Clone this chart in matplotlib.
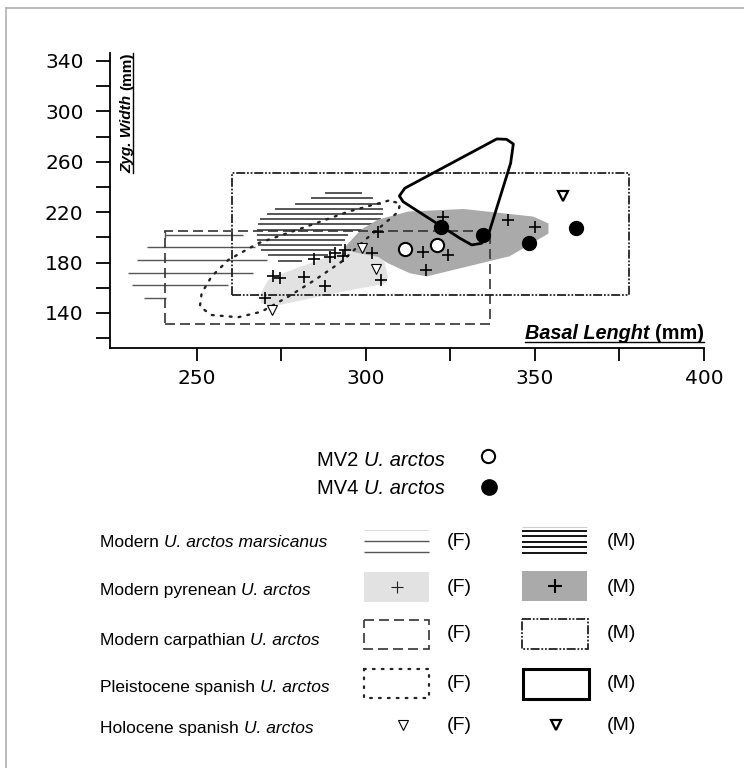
#!/usr/bin/env python3
# Basal length vs zygomatic width of U. arctos skulls, redrawn with matplotlib
import matplotlib
matplotlib.use("Agg")
from matplotlib import pyplot as plt
from matplotlib.patches import Polygon, Rectangle
from matplotlib.lines import Line2D

plt.rcParams["font.family"] = ["Liberation Sans", "DejaVu Sans"]

# ---- values (mm) ----
# Modern U. arctos marsicanus, drawn as hatch lines (y, x start, x end)
marsF_y = [202, 192, 182, 172, 162, 152]
marsF_x0 = [240.5, 235.3, 232.3, 229.7, 230.7, 234.3]
marsF_x1 = [263.7, 267.2, 270.6, 266.7, 259.3, 241.0]
marsM_y = [235, 231, 226.5, 222.3, 218.3, 214.4, 210.4, 205.9, 201.9, 197.9, 194, 190, 185.8, 181.3]
marsM_x0 = [287.9, 283.9, 279.0, 273.1, 270.6, 268.6, 268.1, 267.7, 267.7, 267.7, 268.1, 269.1, 271.1, 274.1]
marsM_x1 = [298.7, 302.2, 304.6, 305.1, 305.1, 304.6, 302.7, 298.7, 294.8, 293.8, 292.8, 290.8, 288.8, 281.0]

# Modern pyrenean U. arctos, convex areas
pyrF_x = [269, 269, 271, 274, 285, 295, 300, 303, 305.5, 306.5, 305.5, 295, 281, 272]
pyrF_y = [148, 156, 166, 170, 181, 190, 193, 185, 181, 168, 163, 158, 150, 145]
pyrM_x = [293.5, 298.5, 303.5, 312.5, 329, 349.5, 354, 354, 342.5, 318, 313, 306.5, 303.5, 297]
pyrM_y = [191.5, 206, 214, 220.5, 222.5, 216.5, 211, 203, 185, 169, 171.5, 179.5, 184.5, 188]
# individual pyrenean specimens
pyrCross_x = [270.1, 272.6, 274.6, 281.7, 287.9, 284.6, 289.3, 290.8, 293.8, 293.3, 301.7, 303.6, 304.6,
              322.9, 316.9, 324.4, 317.8, 342.1, 350.0]
pyrCross_y = [152.2, 169.4, 168.0, 168.8, 161.4, 182.6, 184.2, 187.9, 190.0, 185.2, 187.4, 204.5, 166.2,
              216.4, 188.7, 186.0, 174.1, 213.8, 208.5]

# Modern carpathian U. arctos, ranges [x0, x1, y0, y1]
carpF = [240.5, 336.7, 131.5, 205.0]
carpM = [260.4, 377.9, 154.3, 251.3]

# Pleistocene spanish U. arctos, outlines
pleiF_x = [306.6, 294.8, 281.0, 268.1, 259.3, 254.3, 251.4, 250.9, 254.3, 262.2, 269.1, 277.0, 284.9,
           292.8, 299.7, 305.6, 309.6, 310.1, 306.6]
pleiF_y = [229.1, 220.4, 207.2, 195.3, 182.1, 168.8, 155.6, 145.0, 138.4, 136.6, 141.0, 152.9, 166.2,
           180.7, 197.9, 211.2, 220.4, 227.1, 229.1]
pleiM_x = [309.9, 311.5, 338.7, 341.6, 343.6, 342.8, 336.2, 334.2, 331.3, 327.8, 311.0]
pleiM_y = [232.9, 239.0, 278.1, 277.8, 274.1, 258.8, 201.9, 195.3, 194.0, 199.3, 228.3]

# Holocene spanish U. arctos
holoF_x = [298.7, 302.9, 272.1]
holoF_y = [191.3, 174.7, 142.4]
holoM_x = [358.4]
holoM_y = [232.5]

# Monte Vallone (MV) specimens
mv2_x = [311.5, 321.1]
mv2_y = [190.4, 194.0]
mv4_x = [322.1, 334.7, 348.1, 362.1]
mv4_y = [208.5, 201.9, 195.2, 207.1]

xTicks = [250, 275, 300, 325, 350, 375, 400]
xLabelled = [250, 300, 350, 400]
yTicks = [120, 140, 160, 180, 200, 220, 240, 260, 280, 300, 320, 340]
yLabelled = [140, 180, 220, 260, 300, 340]

legendRows = ["Modern <i>U. arctos marsicanus</i>", "Modern pyrenean <i>U. arctos</i>",
              "Modern carpathian <i>U. arctos</i>", "Pleistocene spanish <i>U. arctos</i>",
              "Holocene spanish <i>U. arctos</i>"]

lightGray = "#e2e2e2"
darkGray = "#aaaaaa"

W, H = 744, 768
fig = plt.figure(figsize=(W / 100, H / 100), dpi=100)
fig.patch.set_facecolor("white")

# overlay axes in pixel units for the legend and the frame
lax = fig.add_axes([0, 0, 1, 1], zorder=0)
lax.set_xlim(0, W)
lax.set_ylim(H, 0)
lax.axis("off")

# main plot axes
ax = fig.add_axes([110 / W, 1 - 348 / H, 594 / W, 295 / H], zorder=1)
ax.patch.set_alpha(0)
ax.set_xlim(224.3, 400)
ax.set_ylim(112.2, 346.3)
for side in ["top", "right"]:
    ax.spines[side].set_visible(False)
for side in ["left", "bottom"]:
    ax.spines[side].set_linewidth(1.3)

# marsicanus hatch lines
ax.hlines(marsF_y, marsF_x0, marsF_x1, colors="#555555", linewidth=1.0, zorder=1)
ax.vlines([marsF_x0[0]], marsF_y[0] - 2.5, marsF_y[0] + 2.5, colors="#555555", linewidth=1.0, zorder=1)
ax.hlines(marsM_y, marsM_x0, marsM_x1, colors="#2a2a2a", linewidth=1.1, zorder=1)

# pyrenean areas
ax.add_patch(Polygon(list(zip(pyrF_x, pyrF_y)), closed=True, facecolor=lightGray, edgecolor="none", zorder=2))
ax.add_patch(Polygon(list(zip(pyrM_x, pyrM_y)), closed=True, facecolor=darkGray, edgecolor="none", zorder=3))

# carpathian ranges
ax.add_patch(Rectangle((carpF[0], carpF[2]), carpF[1] - carpF[0], carpF[3] - carpF[2], fill=False,
                       edgecolor="#333333", linewidth=1.2, linestyle=(0, (6, 3)), zorder=4))
ax.add_patch(Rectangle((carpM[0], carpM[2]), carpM[1] - carpM[0], carpM[3] - carpM[2], fill=False,
                       edgecolor="#222222", linewidth=1.3, linestyle=(0, (5, 1, 1, 1, 1, 1)), zorder=4))

# pleistocene outlines
ax.plot(pleiF_x, pleiF_y, color="#222222", linewidth=1.7, linestyle=(0, (0.8, 3.0)),
        dash_capstyle="round", zorder=5)
ax.add_patch(Polygon(list(zip(pleiM_x, pleiM_y)), closed=True, fill=False, edgecolor="black",
                     linewidth=2.0, joinstyle="round", zorder=5))

# points
ax.plot(pyrCross_x, pyrCross_y, linestyle="none", marker="+", markersize=9, markeredgewidth=1.2,
        color="black", zorder=6)
ax.plot(holoF_x, holoF_y, linestyle="none", marker="v", markersize=6.5, markerfacecolor="white",
        markeredgecolor="black", markeredgewidth=0.8, zorder=6)
ax.plot(holoM_x, holoM_y, linestyle="none", marker="v", markersize=6.5, markerfacecolor="white",
        markeredgecolor="black", markeredgewidth=1.6, zorder=6)
ax.plot(mv2_x, mv2_y, linestyle="none", marker="o", markersize=9.5, markerfacecolor="white",
        markeredgecolor="black", markeredgewidth=1.5, zorder=7)
ax.plot(mv4_x, mv4_y, linestyle="none", marker="o", markersize=10, color="black", zorder=7)

# ticks
ax.set_xticks(xTicks)
ax.set_xticklabels([str(v) if v in xLabelled else "" for v in xTicks])
ax.set_yticks(yTicks)
ax.set_yticklabels([str(v) if v in yLabelled else "" for v in yTicks])
ax.tick_params(axis="x", direction="out", length=9, width=1.3, pad=6, labelsize=14.5)
ax.tick_params(axis="y", direction="out", length=10, width=1.3, pad=9, labelsize=14.5)
for lbl in ax.get_xticklabels() + ax.get_yticklabels():
    lbl.set_fontfamily("DejaVu Sans")

# axis titles, bold (italic part) and underlined
xUnit = fig.text(704 / W, 1 - 339 / H, "(mm)", ha="right", va="baseline", fontsize=14.3, weight="bold")
xName = fig.text(0, 0, "Basal Lenght ", fontsize=14.3, weight="bold", style="italic",
                 ha="right", va="baseline")
yUnit = fig.text(127 / W, 1 - 53 / H, "(mm)", ha="center", va="top", rotation=90, fontsize=11,
                 weight="bold")
yName = fig.text(0, 0, "Zyg. Width ", ha="center", va="top", rotation=90, fontsize=11,
                 weight="bold", style="italic")
fig.canvas.draw()
rend = fig.canvas.get_renderer()
bb = xUnit.get_window_extent(rend)
xName.set_position((bb.x0 / W, (1 - 339 / H)))
bb = yUnit.get_window_extent(rend)
yName.set_position((((bb.x0 + bb.x1) / 2) / W, bb.y0 / H))
fig.canvas.draw()
bx0 = xName.get_window_extent(rend)
bx1 = xUnit.get_window_extent(rend)
fig.add_artist(Line2D([bx0.x0 / W, bx1.x1 / W], [(bx1.y0 + 1) / H] * 2, color="black", linewidth=1.0,
                      transform=fig.transFigure))
by0 = yName.get_window_extent(rend)
by1 = yUnit.get_window_extent(rend)
fig.add_artist(Line2D([(by1.x1 - 1) / W] * 2, [by0.y0 / H, by1.y1 / H], color="black", linewidth=1.0,
                      transform=fig.transFigure))

# frame lines of the original image
lax.plot([6, W], [8, 8], color="#b0b0b0", linewidth=1.2)
lax.plot([6, 6], [8, H], color="#b0b0b0", linewidth=1.2)


def rich_text(x, y, label, size):
    # draws "plain <i>italic</i>" pieces one after another on a shared baseline
    parts = label.replace("</i>", "<i>").split("<i>")
    base = y + 0.36 * size * 100 / 72
    xCur = x
    for k, part in enumerate(parts):
        if not part:
            continue
        t = lax.text(xCur, base, part, fontsize=size, va="baseline", ha="left",
                     style="italic" if k % 2 else "normal")
        fig.canvas.draw()
        xCur += t.get_window_extent(rend).width
    return xCur


# MV legend
rich_text(317, 459, "MV2 <i>U. arctos</i>", 14.5)
rich_text(317, 487, "MV4 <i>U. arctos</i>", 14.5)
lax.plot([488], [456], linestyle="none", marker="o", markersize=9.5, markerfacecolor="white",
         markeredgecolor="black", markeredgewidth=1.5)
lax.plot([488.5], [487], linestyle="none", marker="o", markersize=11, color="black")

# group legend
rowText = [541, 589, 639, 686, 727]
rowSym = [541, 587, 634, 683, 726]
fx0, fx1 = 364, 429
mx0, mx1 = 522, 587
for label, ty, sy in zip(legendRows, rowText, rowSym):
    rich_text(100, ty, label, 12.5)
    lax.text(459, sy, "(F)", fontsize=14, ha="center", va="center")
    lax.text(621, sy, "(M)", fontsize=14, ha="center", va="center")

# row 1: hatch lines
lax.hlines([529.5], fx0, fx1, colors="#dddddd", linewidth=0.8)
lax.hlines([541, 552], fx0, fx1, colors="#555555", linewidth=1.0)
lax.hlines([526.5], mx0, mx1, colors="#cccccc", linewidth=0.8)
lax.hlines([531, 536, 541.5, 547, 552.5], mx0, mx1, colors="black", linewidth=1.3)
# row 2: filled boxes with crosses
lax.add_patch(Rectangle((fx0, 572), fx1 - fx0, 30, facecolor=lightGray, edgecolor="none"))
lax.add_patch(Rectangle((mx0, 571), mx1 - mx0, 30, facecolor=darkGray, edgecolor="none"))
lax.plot([(fx0 + fx1) / 2], [587], marker="+", markersize=9, markeredgewidth=0.8, color="#222222")
lax.plot([(mx0 + mx1) / 2], [586], marker="+", markersize=10, markeredgewidth=1.5, color="black")
# row 3: carpathian boxes
lax.add_patch(Rectangle((fx0, 619.5), fx1 - fx0, 29.5, fill=False, edgecolor="#333333", linewidth=1.2,
                        linestyle=(0, (6, 3))))
lax.add_patch(Rectangle((mx0, 619), mx1 - mx0 + 1, 29.5, fill=False, edgecolor="#222222", linewidth=1.3,
                        linestyle=(0, (5, 1, 1, 1, 1, 1))))
# row 4: pleistocene boxes
lax.add_patch(Rectangle((fx0, 668.5), fx1 - fx0, 29.5, fill=False, edgecolor="#222222", linewidth=1.6,
                        linestyle=(0, (0.8, 3.2)), capstyle="round"))
lax.add_patch(Rectangle((mx0 + 1, 668.5), mx1 - mx0 + 1, 30, fill=False, edgecolor="black", linewidth=2.2))
# row 5: holocene triangles
lax.plot([402.5], [725], linestyle="none", marker="v", markersize=6.5, markerfacecolor="white",
         markeredgecolor="black", markeredgewidth=0.8)
lax.plot([555.5], [725], linestyle="none", marker="v", markersize=6.5, markerfacecolor="white",
         markeredgecolor="black", markeredgewidth=1.6)

fig.savefig("out.png", dpi=100)
